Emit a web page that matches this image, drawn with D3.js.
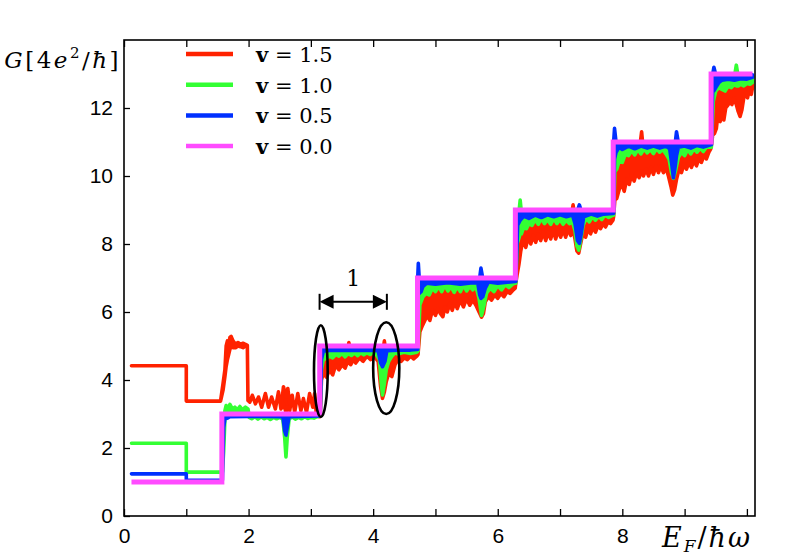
<!DOCTYPE html>
<html><head><meta charset="utf-8">
<script src="https://cdn.jsdelivr.net/npm/d3@7"></script>
<style>body{margin:0;background:#fff}</style></head>
<body><svg id="c" width="789" height="555"></svg>
<script>
const xTicks=[0,1,2,3,4,5,6,7,8,9,10];
const xTickLabels=[0,2,4,6,8];
const yTicks=[0,2,4,6,8,10,12];
const legendLabels=["1.5","1.0","0.5","0.0"];
const legendColors=["#ff2200","#33ff33","#0030ff","#ff4cff"];

// v = 0.0 : quantised steps [x, G]
const magenta=[[0.12,1],[1.571,3],[3.142,5],[4.712,7],[6.283,9],[7.854,11],[9.425,13],[10.09,13]];

// [x, lower, upper] envelopes of the rapidly oscillating curves
const red=[[0.12,4.42,4.42],[1.0,4.42,4.42],[1.0,3.38,3.38],[1.55,3.38,3.38],
[1.59,3.7,3.9],[1.62,4.1,4.3],[1.64,4.4,5.0],[1.66,4.6,5.15],[1.68,4.75,5.05],[1.70,4.9,5.25],[1.72,5.0,5.28],[1.75,4.95,5.15],[1.79,4.95,5.05],[1.83,5.0,5.1],[1.87,4.98,5.05],[1.91,4.95,5.08],[1.95,5.0,5.05],[1.98,5.02,5.02],[1.99,3.4,3.4],
[2.02,3.35,3.35],[2.06,3.55,3.55],[2.11,3.3,3.3],[2.16,3.5,3.5],[2.21,3.2,3.2],[2.27,3.6,3.6],[2.32,3.2,3.2],[2.37,3.5,3.5],[2.43,3.15,3.15],[2.48,3.65,3.65],[2.52,3.15,3.15],[2.56,3.3,3.8],[2.60,3.05,3.5],[2.63,3.2,3.75],[2.66,3.1,3.3],[2.70,3.55,3.55],[2.74,3.05,3.05],[2.79,3.6,3.6],[2.84,3.1,3.1],[2.88,3.45,3.45],[2.93,3.05,3.05],[2.98,3.6,3.6],[3.03,3.2,3.2],[3.06,3.6,3.6],[3.09,2.95,2.95],[3.14,2.92,2.92],
[3.15,2.95,4.0],[3.17,4.0,4.8],[3.20,4.2,4.85],[3.25,4.08,4.8],[3.30,4.3,4.8],[3.35,4.15,4.78],[3.40,4.45,4.8],[3.45,4.3,4.8],[3.50,4.45,4.82],[3.55,4.35,4.8],[3.59,4.55,4.85],[3.61,4.5,5.1],[3.64,4.45,4.85],[3.68,4.6,4.85],[3.72,4.5,4.82],[3.78,4.65,4.85],[3.84,4.55,4.82],[3.90,4.7,4.85],[3.96,4.6,4.85],[4.02,4.68,4.85],[4.08,4.55,4.85],[4.12,3.8,4.8],[4.15,3.46,4.75],[4.18,3.65,5.15],[4.21,3.95,4.7],[4.25,4.2,4.75],[4.30,4.1,4.8],[4.35,4.45,4.8],[4.40,4.6,4.8],[4.45,4.55,4.8],[4.50,4.65,4.82],[4.55,4.6,4.82],[4.60,4.7,4.85],[4.65,4.62,4.82],[4.70,4.7,4.85],
[4.72,4.75,6.2],[4.75,5.42,6.4],[4.79,5.6,6.5],[4.83,5.75,6.55],[4.87,5.9,6.5],[4.91,5.75,6.6],[4.95,6.05,6.6],[5.0,5.9,6.6],[5.04,6.1,6.65],[5.08,5.95,6.6],[5.12,5.86,6.7],[5.15,6.15,6.6],[5.19,6.0,6.65],[5.23,6.25,6.7],[5.27,6.05,6.7],[5.31,6.3,6.72],[5.35,6.1,6.72],[5.40,6.35,6.75],[5.45,6.15,6.7],[5.50,6.4,6.75],[5.55,6.2,6.7],[5.60,6.35,6.72],[5.65,6.2,6.7],[5.70,6.0,6.6],[5.74,5.85,6.5],[5.77,5.95,6.55],[5.80,6.3,6.6],[5.85,6.45,6.72],[5.90,6.35,6.7],[5.95,6.5,6.75],[6.0,6.4,6.75],[6.05,6.55,6.8],[6.10,6.45,6.78],[6.15,6.6,6.82],[6.20,6.55,6.82],[6.25,6.65,6.85],[6.28,6.7,6.85],
[6.29,6.85,7.6],[6.31,7.09,8.1],[6.34,7.4,8.4],[6.37,7.8,8.5],[6.41,8.15,8.55],[6.45,7.9,8.6],[6.49,8.2,8.65],[6.53,8.0,8.6],[6.57,8.25,8.7],[6.61,8.05,8.62],[6.65,8.3,8.7],[6.69,8.1,8.65],[6.73,8.35,8.72],[6.77,8.1,8.62],[6.81,8.35,8.7],[6.85,8.15,8.7],[6.89,8.4,8.75],[6.93,8.15,8.65],[6.97,8.4,8.75],[7.01,8.2,8.7],[7.05,8.42,8.75],[7.09,8.2,8.7],[7.13,8.45,8.78],[7.17,8.25,8.7],[7.21,8.4,9.15],[7.24,8.15,8.7],[7.27,7.8,8.5],[7.30,7.73,8.4],[7.33,8.0,8.55],[7.37,8.35,8.7],[7.41,8.2,8.7],[7.45,8.45,8.78],[7.49,8.3,8.75],[7.53,8.5,8.8],[7.57,8.35,8.78],[7.61,8.55,8.82],[7.65,8.45,8.8],[7.69,8.6,8.85],[7.73,8.5,8.82],[7.77,8.65,8.85],[7.81,8.6,8.85],[7.85,8.7,8.85],
[7.86,8.8,9.5],[7.88,9.3,10.4],[7.91,9.34,10.5],[7.95,9.6,10.6],[7.99,9.8,10.65],[8.03,9.55,10.6],[8.07,9.9,10.7],[8.11,9.75,10.65],[8.15,10.05,10.72],[8.19,9.85,10.65],[8.23,10.1,10.72],[8.27,9.95,10.7],[8.31,10.15,11.3],[8.34,10.0,10.7],[8.38,10.2,10.75],[8.42,10.0,10.7],[8.46,10.25,10.78],[8.50,10.05,10.7],[8.54,10.3,10.78],[8.58,10.1,10.72],[8.62,10.3,10.8],[8.66,10.1,10.72],[8.70,10.25,10.78],[8.74,10.0,10.65],[8.78,9.7,10.5],[8.81,9.44,10.4],[8.84,9.6,10.45],[8.87,9.9,10.55],[8.91,10.2,10.7],[8.95,10.1,10.7],[8.99,10.35,10.8],[9.03,10.2,10.75],[9.07,10.4,10.82],[9.11,10.25,10.78],[9.15,10.45,10.85],[9.19,10.3,10.8],[9.23,10.5,10.88],[9.27,10.4,10.85],[9.31,10.6,10.9],[9.35,10.5,10.9],[9.39,10.7,10.95],[9.42,10.8,10.95],
[9.43,10.9,11.6],[9.45,11.2,12.3],[9.48,11.25,12.5],[9.51,11.4,12.55],[9.54,11.9,12.6],[9.57,11.6,12.6],[9.60,11.85,12.62],[9.63,11.65,12.6],[9.66,12.0,12.65],[9.70,12.1,12.68],[9.73,12.25,12.7],[9.76,12.1,12.68],[9.79,12.3,12.72],[9.83,12.1,12.7],[9.86,11.9,12.65],[9.89,11.75,12.6],[9.92,11.95,12.65],[9.95,12.3,12.7],[9.98,12.45,12.75],[10.01,12.3,12.72],[10.04,12.55,12.78],[10.07,12.4,12.75],[10.09,12.6,12.78]];

const green=[[0.12,2.14,2.14],[1.0,2.14,2.14],[1.0,1.29,1.29],[1.58,1.29,1.29],[1.60,1.9,2.1],[1.62,2.85,3.1],[1.64,2.95,3.25],[1.67,2.95,3.15],[1.70,2.95,3.28],[1.74,2.95,3.15],[1.78,2.95,3.2],[1.82,2.95,3.12],[1.86,2.95,3.22],[1.90,2.95,3.12],[1.95,2.95,3.2],[1.99,2.95,3.15],[2.01,2.9,2.95],[2.05,2.86,2.95],[2.1,2.92,2.96],[2.15,2.85,2.95],[2.2,2.92,2.96],[2.25,2.86,2.95],[2.3,2.9,2.96],[2.35,2.84,2.95],[2.4,2.9,2.95],[2.45,2.86,2.95],[2.5,2.9,2.96],[2.55,2.85,2.95],[2.58,2.3,2.95],[2.60,1.74,2.9],[2.62,2.3,2.95],[2.65,2.85,2.95],[2.7,2.92,2.96],[2.75,2.85,2.95],[2.8,2.9,2.96],[2.85,2.86,2.95],[2.9,2.92,2.96],[2.95,2.87,2.95],[3.0,2.9,2.96],[3.05,2.88,2.95],[3.1,2.92,2.95],[3.14,2.95,2.95],
[3.15,2.95,4.3],[3.17,4.3,4.9],[3.2,4.6,4.9],[3.25,4.64,4.9],[3.3,4.7,4.9],[3.35,4.65,4.9],[3.4,4.75,4.9],[3.45,4.7,4.9],[3.5,4.78,4.9],[3.55,4.68,4.9],[3.6,4.78,4.9],[3.65,4.72,4.9],[3.7,4.8,4.9],[3.75,4.72,4.9],[3.8,4.8,4.92],[3.85,4.74,4.9],[3.9,4.8,4.9],[3.95,4.75,4.9],[4.0,4.82,4.9],[4.05,4.75,4.9],[4.1,4.6,4.88],[4.13,3.9,4.85],[4.15,3.56,4.8],[4.18,3.9,4.8],[4.21,4.3,4.85],[4.25,4.55,4.88],[4.3,4.7,4.9],[4.35,4.8,4.9],[4.4,4.76,4.9],[4.5,4.82,4.9],[4.6,4.78,4.9],[4.7,4.82,4.9],
[4.72,4.85,6.9],[4.75,6.21,6.92],[4.8,6.45,6.92],[4.85,6.55,6.92],[4.9,6.5,6.92],[4.95,6.7,6.92],[5.0,6.6,6.92],[5.05,6.75,6.92],[5.1,6.6,6.92],[5.15,6.78,6.92],[5.2,6.62,6.92],[5.25,6.75,6.92],[5.3,6.58,6.92],[5.35,6.75,6.92],[5.4,6.6,6.92],[5.45,6.78,6.92],[5.5,6.62,6.92],[5.55,6.75,6.92],[5.6,6.65,6.92],[5.65,6.75,6.92],[5.7,6.4,6.9],[5.74,5.9,6.85],[5.78,6.2,6.9],[5.82,6.55,6.92],[5.88,6.7,6.92],[5.94,6.6,6.92],[6.0,6.78,6.92],[6.06,6.65,6.92],[6.12,6.8,6.92],[6.18,6.72,6.92],[6.24,6.82,6.92],[6.28,6.85,6.92],
[6.29,6.85,8.9],[6.31,8.0,8.92],[6.34,8.17,8.92],[6.36,8.3,9.29],[6.38,8.3,8.92],[6.42,8.5,8.92],[6.46,8.45,8.92],[6.5,8.6,8.92],[6.55,8.55,8.92],[6.6,8.72,8.92],[6.65,8.58,8.92],[6.7,8.75,8.92],[6.75,8.6,8.92],[6.8,8.72,8.92],[6.85,8.58,8.92],[6.9,8.75,8.92],[6.95,8.6,8.92],[7.0,8.72,8.92],[7.05,8.58,8.92],[7.1,8.7,8.92],[7.15,8.6,8.92],[7.2,8.65,8.92],[7.24,8.4,8.9],[7.27,7.95,8.85],[7.3,7.82,8.8],[7.33,8.1,8.85],[7.37,8.55,8.9],[7.42,8.75,8.92],[7.47,8.65,8.92],[7.52,8.8,8.92],[7.57,8.7,8.92],[7.62,8.82,8.92],[7.67,8.72,8.92],[7.72,8.85,8.92],[7.78,8.78,8.92],[7.85,8.85,8.92],
[7.86,8.85,10.9],[7.88,10.13,10.92],[7.91,10.2,10.92],[7.95,10.45,10.92],[8.0,10.4,10.92],[8.05,10.65,10.92],[8.1,10.6,10.92],[8.15,10.75,10.92],[8.2,10.62,10.92],[8.25,10.78,10.92],[8.3,10.65,10.92],[8.35,10.8,10.92],[8.4,10.68,10.92],[8.45,10.78,10.92],[8.5,10.66,10.92],[8.55,10.8,10.92],[8.6,10.7,10.92],[8.65,10.78,10.92],[8.7,10.65,10.92],[8.75,10.5,10.9],[8.79,10.1,10.88],[8.82,9.93,10.85],[8.86,10.2,10.88],[8.9,10.55,10.92],[8.95,10.7,10.92],[9.0,10.6,10.92],[9.05,10.78,10.92],[9.1,10.65,10.92],[9.15,10.8,10.92],[9.2,10.7,10.92],[9.25,10.82,10.92],[9.3,10.72,10.92],[9.35,10.85,10.92],[9.42,10.85,10.92],
[9.43,10.85,12.9],[9.46,12.2,12.92],[9.5,12.5,12.92],[9.55,12.6,12.92],[9.6,12.55,12.92],[9.65,12.5,12.92],[9.7,12.65,12.92],[9.75,12.6,12.92],[9.8,12.7,12.92],[9.83,12.65,13.26],[9.86,12.65,12.92],[9.9,12.7,12.92],[9.95,12.65,12.92],[10.0,12.72,12.92],[10.05,12.7,12.92],[10.09,12.75,12.92]];

const blue=[[0.12,1.24,1.24],[1.0,1.24,1.24],[1.0,1.05,1.05],[1.58,1.05,1.05],[1.60,2.6,2.9],[1.62,2.85,2.97],[1.66,2.88,2.97],[1.7,2.92,2.97],[2.0,2.93,2.97],[2.3,2.93,2.97],[2.55,2.92,2.97],[2.58,2.5,2.97],[2.60,2.38,2.95],[2.62,2.6,2.97],[2.65,2.92,2.97],[3.14,2.94,2.97],
[3.15,2.95,4.9],[3.17,4.6,4.98],[3.2,4.85,4.98],[3.3,4.87,4.98],[3.5,4.88,4.98],[3.7,4.87,4.98],[3.9,4.88,4.98],[4.08,4.86,4.98],[4.12,4.5,4.98],[4.15,4.39,4.97],[4.19,4.55,4.98],[4.22,4.86,4.98],[4.4,4.88,4.98],[4.6,4.88,4.98],[4.7,4.9,4.98],
[4.715,4.9,6.98],[4.725,6.6,7.43],[4.74,6.55,6.98],[4.77,6.6,6.98],[4.8,6.75,6.98],[4.86,6.85,6.98],[5.0,6.82,6.98],[5.2,6.86,6.98],[5.4,6.82,6.98],[5.6,6.86,6.98],[5.68,6.85,6.98],[5.71,6.5,7.0],[5.73,6.4,7.29],[5.76,6.45,6.98],[5.8,6.7,6.98],[5.85,6.88,6.98],[6.0,6.85,6.98],[6.28,6.9,6.98],
[6.29,6.9,8.98],[6.32,8.55,8.98],[6.36,8.7,8.98],[6.42,8.82,8.98],[6.5,8.75,8.98],[6.6,8.85,8.98],[6.7,8.78,8.98],[6.8,8.86,8.98],[6.9,8.8,8.98],[7.0,8.86,8.98],[7.1,8.8,8.98],[7.2,8.85,8.98],[7.24,8.6,8.98],[7.28,8.1,8.98],[7.31,8.02,9.15],[7.34,8.3,8.98],[7.38,8.8,8.98],[7.5,8.88,8.98],[7.6,8.82,8.98],[7.7,8.88,8.98],[7.85,8.9,8.98],
[7.86,8.9,10.98],[7.875,10.5,11.4],[7.9,10.7,10.98],[7.95,10.85,10.98],[8.0,10.78,10.98],[8.1,10.88,10.98],[8.2,10.8,10.98],[8.3,10.88,10.98],[8.4,10.82,10.98],[8.5,10.88,10.98],[8.6,10.82,10.98],[8.7,10.88,10.98],[8.76,10.8,10.98],[8.79,10.4,10.98],[8.82,9.95,10.95],[8.85,10.3,10.98],[8.87,10.6,11.3],[8.9,10.85,10.98],[9.0,10.88,10.98],[9.1,10.82,10.98],[9.2,10.9,10.98],[9.3,10.85,10.98],[9.42,10.92,10.98],
[9.43,10.92,12.98],[9.45,12.5,12.98],[9.47,12.5,13.2],[9.5,12.6,12.98],[9.55,12.75,12.98],[9.6,12.82,12.98],[9.7,12.85,12.98],[9.8,12.82,12.98],[9.9,12.86,12.98],[10.0,12.85,12.98],[10.09,12.9,12.98]];

const ellipses=[[3.16,4.26,0.11,1.35],[4.21,4.35,0.21,1.35]]; // cx, cy, rx, ry (data units)
const arrowX=[3.14,4.22], arrowY=6.3, arrowLabel="1";

const svg=d3.select("#c");
const x=d3.scaleLinear().domain([0,10.13]).range([124,755]);
const y=d3.scaleLinear().domain([0,14]).range([516,40]);

const area=d3.area().x(d=>x(d[0])).y0(d=>y(d[1])).y1(d=>y(d[2]));
const plot=svg.append("g");
[[red,legendColors[0]],[green,legendColors[1]],[blue,legendColors[2]]].forEach(([data,c])=>{
  plot.append("path").attr("d",area(data)).attr("fill",c).attr("stroke",c)
    .attr("stroke-width",3.6).attr("stroke-linejoin","round");
});
plot.append("path").attr("d",d3.line().x(d=>x(d[0])).y(d=>y(d[1])).curve(d3.curveStepAfter)(magenta))
  .attr("fill","none").attr("stroke",legendColors[3]).attr("stroke-width",5);

// axes
const tf="Liberation Sans, Arial, sans-serif";
const gx=svg.append("g").attr("transform","translate(0,516)")
  .call(d3.axisBottom(x).tickValues(xTicks).tickSize(-7).tickPadding(12).tickFormat(d=>xTickLabels.includes(d)?d:""));
const gt=svg.append("g").attr("transform","translate(0,40)")
  .call(d3.axisTop(x).tickValues(xTicks).tickSize(-7).tickFormat(""));
const gy=svg.append("g").attr("transform","translate(124,0)")
  .call(d3.axisLeft(y).tickValues(yTicks).tickSize(-6).tickPadding(11));
[gx,gt,gy].forEach(g=>{g.select(".domain").remove();
  g.selectAll("line").attr("stroke","#000").attr("stroke-width",1.3);
  g.selectAll("text").attr("font-family",tf).attr("font-size",21).attr("fill","#000");});
svg.append("rect").attr("x",124).attr("y",40).attr("width",631).attr("height",476)
  .attr("fill","none").attr("stroke","#000").attr("stroke-width",1.6);

// annotations
const ann=svg.append("g");
ellipses.forEach(e=>{
  ann.append("ellipse").attr("cx",x(e[0])).attr("cy",y(e[1]))
    .attr("rx",x(e[0]+e[2])-x(e[0])).attr("ry",y(e[1]-e[3])-y(e[1]))
    .attr("fill","none").attr("stroke","#000").attr("stroke-width",2.6);
});
const ax0=x(arrowX[0]),ax1=x(arrowX[1]),ay=y(arrowY);
ann.append("line").attr("x1",ax0+10).attr("x2",ax1-10).attr("y1",ay).attr("y2",ay).attr("stroke","#000").attr("stroke-width",2);
ann.append("path").attr("d",`M${ax0},${ay}L${ax0+14},${ay-7}L${ax0+14},${ay+7}Z M${ax1},${ay}L${ax1-14},${ay-7}L${ax1-14},${ay+7}Z`).attr("fill","#000");
[ax0,ax1].forEach(v=>ann.append("line").attr("x1",v).attr("x2",v).attr("y1",ay-8).attr("y2",ay+8).attr("stroke","#000").attr("stroke-width",2));
ann.append("text").attr("x",(ax0+ax1)/2).attr("y",ay-16).attr("text-anchor","middle")
  .attr("font-family","DejaVu Serif, serif").attr("font-size",22).text(arrowLabel);

// legend
const sf="DejaVu Serif, serif";
legendLabels.forEach((l,i)=>{
  const ly=54+i*30.7;
  svg.append("line").attr("x1",186).attr("x2",233).attr("y1",ly).attr("y2",ly)
    .attr("stroke",legendColors[i]).attr("stroke-width",4.5);
  const t=svg.append("text").attr("x",256).attr("y",ly+8).attr("font-family",sf).attr("font-size",21);
  t.append("tspan").attr("font-weight","bold").text("v");
  t.append("tspan").text(" = "+l);
});

// axis titles
const yl=svg.append("text").attr("x",121).attr("y",68).attr("text-anchor","end")
  .attr("font-family",sf).attr("font-size",23).attr("letter-spacing",2.5);
yl.append("tspan").attr("font-style","italic").text("G");
yl.append("tspan").text("[4");
yl.append("tspan").attr("font-style","italic").text("e");
yl.append("tspan").attr("font-size",15).attr("dy",-10).text("2");
yl.append("tspan").attr("dy",10).text("/");
yl.append("tspan").attr("font-style","italic").text("ħ");
yl.append("tspan").text("]");

const xl=svg.append("text").attr("x",752).attr("y",547).attr("text-anchor","end")
  .attr("font-family",sf).attr("font-size",27).attr("letter-spacing",2);
xl.append("tspan").attr("font-style","italic").text("E");
xl.append("tspan").attr("font-style","italic").attr("font-size",17).attr("dy",5).text("F");
xl.append("tspan").attr("dy",-5).text("/");
xl.append("tspan").attr("font-style","italic").text("ħω");
</script></body></html>
